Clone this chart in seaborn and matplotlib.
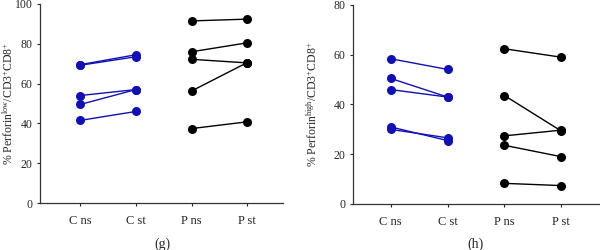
"""Paired perforin plots, panels (g) and (h)."""

import matplotlib

matplotlib.use("Agg")
import matplotlib.pyplot as plt
import pandas as pd
import seaborn as sns

sns.set_theme(style="white")
plt.rcParams["font.family"] = ["Liberation Serif", "DejaVu Serif"]
plt.rcParams["mathtext.default"] = "regular"

CATEGORIES = ["C ns", "C st", "P ns", "P st"]

# panel (g): Perforin low
G_C_NS = [69.5, 69.2, 54.0, 49.5, 41.5]
G_C_ST = [74.5, 73.5, 57.0, 57.0, 46.0]
G_P_NS = [91.5, 76.0, 72.2, 56.3, 37.4]
G_P_ST = [92.4, 80.5, 70.4, 70.6, 40.8]

# panel (h): Perforin high
H_C_NS = [58.4, 50.5, 46.0, 31.0, 30.0]
H_C_ST = [54.1, 43.0, 43.0, 25.5, 26.6]
H_P_NS = [62.4, 43.6, 27.4, 23.6, 8.3]
H_P_ST = [59.0, 29.3, 29.7, 19.0, 7.4]

BLUE = "#1010b8"
BLACK = "#000000"


def build_frame(c_ns, c_st, p_ns, p_st) -> pd.DataFrame:
    rows = []
    for i, (a, b) in enumerate(zip(c_ns, c_st)):
        rows.append({"subject": f"c{i}", "group": "C", "x": 0, "value": a})
        rows.append({"subject": f"c{i}", "group": "C", "x": 1, "value": b})
    for i, (a, b) in enumerate(zip(p_ns, p_st)):
        rows.append({"subject": f"p{i}", "group": "P", "x": 2, "value": a})
        rows.append({"subject": f"p{i}", "group": "P", "x": 3, "value": b})
    return pd.DataFrame(rows)


def draw_panel(ax, df, ymax, ylabel, xlim, label_x):
    sns.lineplot(
        data=df,
        x="x",
        y="value",
        hue="group",
        units="subject",
        estimator=None,
        palette={"C": BLUE, "P": BLACK},
        marker="o",
        markersize=6.5,
        markeredgewidth=0,
        linewidth=1.0,
        legend=False,
        ax=ax,
    )
    ax.set_xlim(*xlim)
    ax.set_ylim(0, ymax)
    ax.set_yticks(range(0, ymax + 1, 20))
    ax.set_xticks(range(len(CATEGORIES)))
    ax.set_xticklabels(CATEGORIES, fontsize=9)
    ax.tick_params(axis="y", labelsize=8.5, pad=3)
    ax.tick_params(axis="x", pad=6)
    ax.tick_params(direction="out", length=2.5, width=0.8, bottom=True, left=True)
    for side in ("top", "right"):
        ax.spines[side].set_visible(False)
    for side in ("left", "bottom"):
        ax.spines[side].set_color("#333333")
        ax.spines[side].set_linewidth(0.9)
    ax.set_xlabel("")
    ax.set_ylabel(ylabel, fontsize=8.5)
    ax.yaxis.set_label_coords(label_x, 0.5)


def main() -> None:
    fig = plt.figure(figsize=(6, 2.5), dpi=100)
    ax_g = fig.add_axes([40 / 600, 1 - 203 / 250, 243 / 600, 199 / 250])
    ax_h = fig.add_axes([353 / 600, 1 - 204 / 250, 246 / 600, 199 / 250])

    draw_panel(
        ax_g,
        build_frame(G_C_NS, G_C_ST, G_P_NS, G_P_ST),
        100,
        r"% Perforin$^{low}$/CD3$^{+}$CD8$^{+}$",
        (-0.72, 3.64),
        -0.1,
    )
    draw_panel(
        ax_h,
        build_frame(H_C_NS, H_C_ST, H_P_NS, H_P_ST),
        80,
        r"% Perforin$^{high}$/CD3$^{+}$CD8$^{+}$",
        (-0.66, 3.66),
        -0.135,
    )

    fig.text(162 / 600, 1 - 244 / 250, "(g)", fontsize=10, ha="center", va="center")
    fig.text(475 / 600, 1 - 244 / 250, "(h)", fontsize=10, ha="center", va="center")

    fig.savefig("out.png", dpi=100)
    plt.close(fig)


if __name__ == "__main__":
    main()
